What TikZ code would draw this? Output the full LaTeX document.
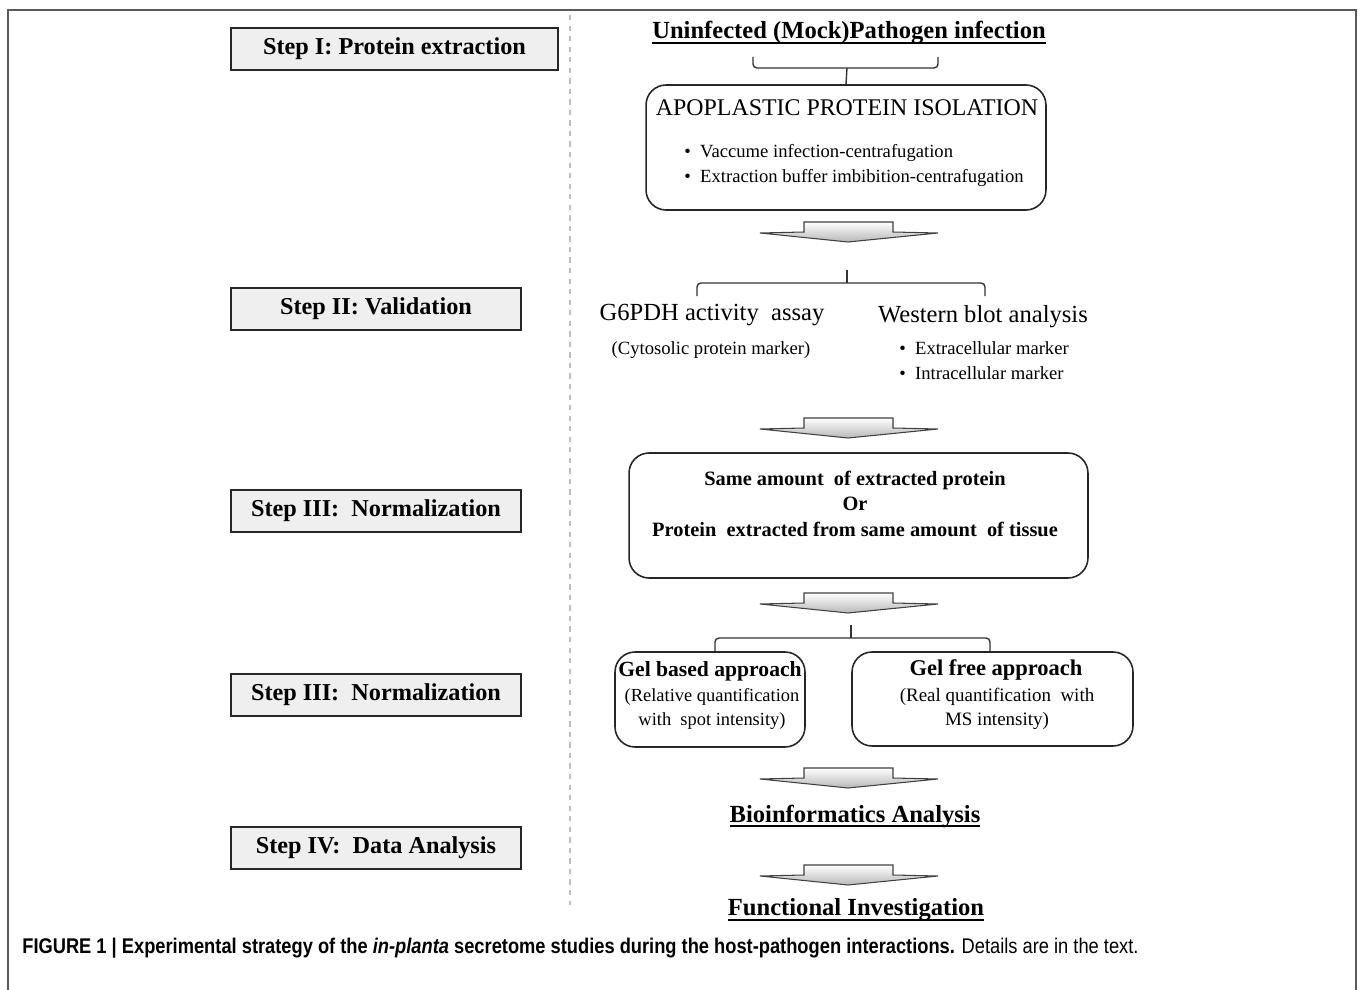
\documentclass[tikz,border=0pt]{standalone}
\usepackage{fontspec}
\setmainfont{Liberation Serif}
\newfontfamily\capfont[FakeStretch=0.86]{Liberation Sans}
\usepackage{tikz}
\usetikzlibrary{positioning,calc}
\definecolor{stepfill}{HTML}{EFEFEF}
\definecolor{framegray}{HTML}{5A5A5A}
\definecolor{guide}{HTML}{BDBDBD}
\newsavebox\ulbox
\newcommand\thickul[1]{\sbox\ulbox{#1}\rlap{\usebox\ulbox}\rule[-3pt]{\wd\ulbox}{1.1pt}}

\tikzset{
  stepbox/.style={draw=black!85, line width=1pt, fill=stepfill, minimum height=0.84cm,
    inner sep=0pt, font=\bfseries\fontsize{13.8}{16}\selectfont},
  rbox/.style={draw=black!85, line width=0.9pt, rounded corners=0.4cm, inner sep=0pt},
  head/.style={inner sep=0pt, font=\bfseries\fontsize{14}{16}\selectfont},
  big/.style={inner sep=0pt, font=\fontsize{14}{16}\selectfont},
  detail/.style={inner sep=0pt, font=\fontsize{10.6}{14.2}\selectfont},
  brace/.style={draw=black!80, line width=0.8pt, rounded corners=0.08cm},
  blockarrow/.pic={
    \path[draw=black!75, line width=0.6pt, top color=white, bottom color=black!28]
      (-88,-9) -- (-44,-10) -- (-44,-20) -- (45,-20) -- (45,-10) -- (90,-9) -- (0,0) -- cycle;
  }
}

\begin{document}
\begin{tikzpicture}[x=0.02cm, y=-0.02cm]
  \useasboundingbox (0,0) rectangle (1360,990);
  % outer frame and divider
  \draw[framegray, line width=1.2pt] (8,1000) -- (8,10) -- (1356,10) -- (1356,1000);
  \draw[guide, dashed, line width=0.8pt] (570,15) -- (570,905);

  % steps on the left
  \node[stepbox, minimum width=6.54cm] (s1) at (394.5,49) {Step I: Protein extraction};
  \node[stepbox, minimum width=5.8cm] (s2) at (376,309) {Step II: Validation};
  \node[stepbox, minimum width=5.8cm] (s3) at (376,511) {Step III:\ \ Normalization};
  \node[stepbox, minimum width=5.8cm] (s3b) at (376,695) {Step III:\ \ Normalization};
  \node[stepbox, minimum width=5.8cm] (s4) at (376,848) {Step IV:\ \ Data Analysis};

  % Step I
  \node[head] (src) at (849,33) {\thickul{Uninfected (Mock)Pathogen infection}};
  \node[rbox, minimum width=8cm, minimum height=2.5cm] (iso) at (846,147.5) {};
  \node[font=\fontsize{13.6}{15}\selectfont, inner sep=0pt] (isot) at (847,108) {APOPLASTIC PROTEIN ISOLATION};
  \node[detail, anchor=west, align=left] (isob) at (684,165)
    {\textbullet\ \ Vaccume infection-centrafugation\\\textbullet\ \ Extraction buffer imbibition-centrafugation};
  \coordinate (br1) at (847,68);
  \draw[brace] (753,57) |- (br1) -| (938,57);
  \draw[brace] (br1) -- (iso.north);
  \coordinate (a1) at (848,242);
  \pic at (a1) {blockarrow};

  % Step II
  \coordinate (br2top) at (847,270);
  \coordinate (br2) at (847,283);
  \draw[brace] (br2top) -- (br2);
  \draw[brace] (697,296) |- (br2) -| (985,296);
  \node[big] (g6) at (712,315) {G6PDH activity\ \ assay};
  \node[detail] (cyto) at (711,350) {(Cytosolic protein marker)};
  \node[big] (wb) at (983,317) {Western blot analysis};
  \node[detail, anchor=west, align=left] (wbb) at (899,361)
    {\textbullet\ \ Extracellular marker\\\textbullet\ \ Intracellular marker};
  \coordinate (a2) at (848,438);
  \pic at (a2) {blockarrow};

  % Step III
  \node[rbox, minimum width=9.18cm, minimum height=2.5cm] (norm) at (858.5,515.5) {};
  \node[align=center, inner sep=0pt, font=\bfseries\fontsize{11.6}{14.5}\selectfont] (normt) at (855,503.5)
    {Same amount\ \ of extracted protein\\Or\\Protein\ \ extracted from same amount\ \ of tissue};
  \coordinate (a3) at (848,613);
  \pic at (a3) {blockarrow};

  % Step III (second)
  \coordinate (br3top) at (851,625);
  \coordinate (br3) at (851,638);
  \node[rbox, minimum width=3.8cm, minimum height=1.9cm] (gelb) at (710,699.5) {};
  \node[rbox, minimum width=5.62cm, minimum height=1.88cm] (gelf) at (992.5,699) {};
  \draw[brace] (br3top) -- (br3);
  \draw[brace] (gelb.north -| 715,0) |- (br3) -| (gelf.north -| 990,0);
  \node[head, font=\bfseries\fontsize{12.3}{15}\selectfont] (gelbt) at (710,671) {Gel based approach};
  \node[detail, align=center, font=\fontsize{10.5}{13.7}\selectfont] (gelbs) at (712,709)
    {(Relative quantification\\with\ \ spot intensity)};
  \node[head, font=\bfseries\fontsize{12.8}{15}\selectfont] (gelft) at (996,670) {Gel free approach};
  \node[detail, align=center, font=\fontsize{10.8}{13.7}\selectfont] (gelfs) at (997,709)
    {(Real quantification\ \ with\\MS intensity)};
  \coordinate (a4) at (848,788);
  \pic at (a4) {blockarrow};

  % Step IV
  \node[head] (bio) at (855,816) {\thickul{Bioinformatics Analysis}};
  \coordinate (a5) at (848,885);
  \pic at (a5) {blockarrow};
  \node[head] (func) at (856,910) {\thickul{Functional Investigation}};

  % caption
  \node[anchor=west, inner sep=0pt, font=\capfont\fontsize{12.1}{14}\selectfont] (cap) at (22,948)
    {\textbf{FIGURE 1 | Experimental strategy of the \textit{in-planta} secretome studies during the host-pathogen interactions.} Details are in the text.};
\end{tikzpicture}
\end{document}
